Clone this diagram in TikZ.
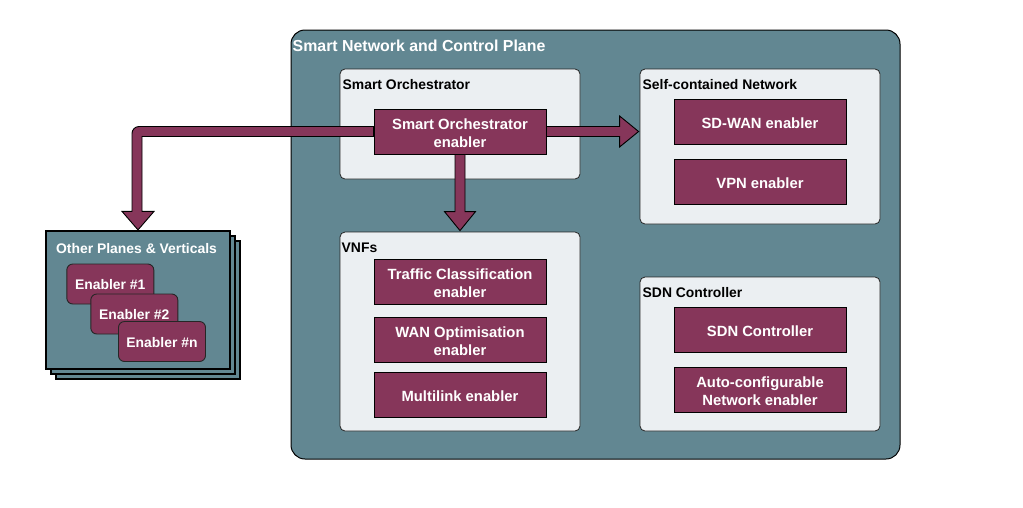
\documentclass[tikz,border=0pt]{standalone}
\usepackage{fontspec}
\setmainfont{Liberation Sans}
\usetikzlibrary{calc}
\definecolor{outerc}{HTML}{628792}
\definecolor{lightc}{HTML}{EBEFF2}
\definecolor{maroonc}{HTML}{86365A}
\begin{document}
\begin{tikzpicture}[x=1pt,y=-1pt,
  container/.style={draw=black, line width=1pt, fill=outerc, rounded corners=14pt, inner sep=0pt},
  groupbox/.style={draw=black!85, line width=0.8pt, fill=lightc, rounded corners=5pt, inner sep=0pt},
  enab/.style={draw=black, line width=0.9pt, fill=maroonc, text=white,
    font=\fontsize{14.8}{18}\selectfont\bfseries, minimum width=172pt, minimum height=45pt,
    align=center, inner sep=0pt, text height=13.6pt},
  enabtwo/.style={enab, text height=32.6pt},
  smallenab/.style={draw=black!85, line width=0.9pt, fill=maroonc, text=white, rounded corners=6pt,
    font=\fontsize{13.9}{16}\selectfont\bfseries, minimum width=87pt, minimum height=40pt, inner sep=0pt,
    text height=12pt},
  stackbox/.style={draw=black, line width=1.2pt, fill=outerc, minimum width=184pt, minimum height=138pt, inner sep=0pt},
  glabel/.style={anchor=west, inner sep=0pt, font=\fontsize{13.9}{16}\selectfont\bfseries},
  titlelabel/.style={anchor=west, inner sep=0pt, text=white, font=\fontsize{15.9}{18}\selectfont\bfseries},
  flexarrow/.style={draw=black, line width=0.9pt, fill=maroonc, line join=miter}
]
\useasboundingbox (0,0) rectangle (1023,507);

% outer container
\node[container, minimum width=609pt, minimum height=429pt] (outer) at (595.5,244.5) {};
\node[titlelabel] (title) at (292.5,45.5) {Smart Network and Control Plane};

% group boxes
\node[groupbox, minimum width=240pt, minimum height=110pt] (sob) at (460,124) {};
\node[glabel] (sol) at (342.5,85) {Smart Orchestrator};
\node[groupbox, minimum width=240pt, minimum height=155pt] (scn) at (760,146.5) {};
\node[glabel] (scnl) at (642.5,85) {Self-contained Network};
\node[groupbox, minimum width=240pt, minimum height=199pt] (vnf) at (460,331.5) {};
\node[glabel] (vnfl) at (341.5,248) {VNFs};
\node[groupbox, minimum width=240pt, minimum height=154pt] (sdn) at (760,354) {};
\node[glabel] (sdnl) at (642.5,293) {SDN Controller};

% enablers
\node[enabtwo] (so) at (460,131.5) {Smart Orchestrator\\enabler};
\node[enab] (sdwan) at (760,121.5) {SD-WAN enabler};
\node[enab] (vpn) at (760,181.5) {VPN enabler};
\node[enabtwo] (tc) at (460,281.5) {Traffic Classification\\enabler};
\node[enabtwo] (wan) at (460,339.5) {WAN Optimisation\\enabler};
\node[enab] (ml) at (460,394.5) {Multilink enabler};
\node[enab] (sdnc) at (760,329.5) {SDN Controller};
\node[enabtwo] (auto) at (760,389.5) {Auto-configurable\\Network enabler};

% other planes stack
\node[stackbox] (opv3) at (148,310) {};
\node[stackbox] (opv2) at (143,305) {};
\node[stackbox] (opv) at (138,300) {};
\node[anchor=center, inner sep=0pt, text=white, font=\fontsize{13.9}{16}\selectfont\bfseries] (opvl) at (136.5,249) {Other Planes \& Verticals};
\node[smallenab] (e1) at (110.3,284) {Enabler \#1};
\node[smallenab] (e2) at (134.3,314) {Enabler \#2};
\node[smallenab] (en) at (162,341.5) {Enabler \#n};

% arrows
\coordinate (rt) at (scn.west |- so.east);
\coordinate (dt) at (so.south |- vnf.north);
\coordinate (lc) at (opv.north |- so.west);

\filldraw[flexarrow] ($(so.east)+(0,-5)$) -- ($(rt)+(-20,-5)$) -- ($(rt)+(-20,-15.5)$)
  -- ($(rt)+(-1,0)$) -- ($(rt)+(-20,15.5)$) -- ($(rt)+(-20,5)$) -- ($(so.east)+(0,5)$) -- cycle;

\filldraw[flexarrow] ($(so.south)+(-5,0)$) -- ($(dt)+(-5,-20)$) -- ($(dt)+(-15.5,-20)$)
  -- ($(dt)+(0,-1)$) -- ($(dt)+(15.5,-20)$) -- ($(dt)+(5,-20)$) -- ($(so.south)+(5,0)$) -- cycle;

\filldraw[flexarrow] ($(so.west)+(0,-5)$) [rounded corners=7pt] -- ($(lc)+(-6,-5)$) -- ($(lc)+(-6,20)$)
  [sharp corners] -- ($(opv.north)+(-6,-19)$) -- ($(opv.north)+(-16,-19)$) -- ($(opv.north)+(0,-0.5)$)
  -- ($(opv.north)+(16,-19)$) -- ($(opv.north)+(4,-19)$) -- ($(lc)+(4,5)$) -- ($(so.west)+(0,5)$) -- cycle;
\end{tikzpicture}
\end{document}
